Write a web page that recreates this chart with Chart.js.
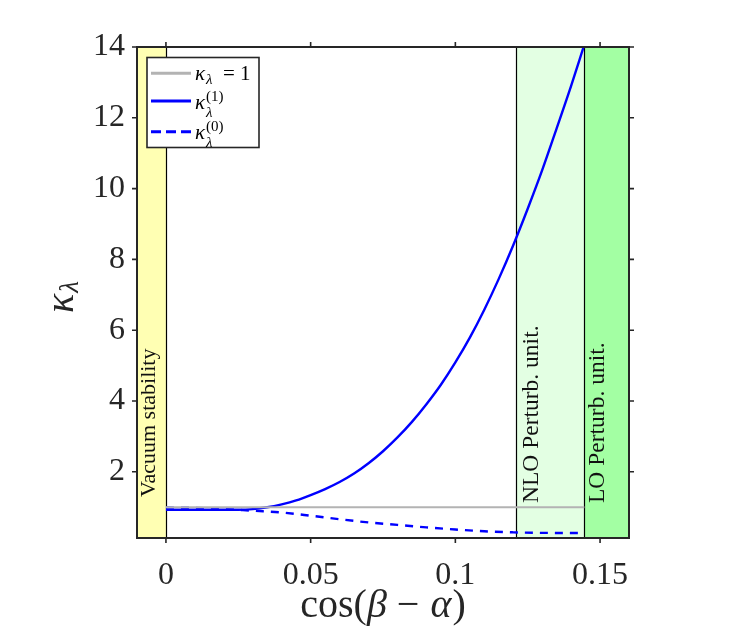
<!DOCTYPE html>
<html><head><meta charset="utf-8">
<script src="https://cdn.jsdelivr.net/npm/chart.js@4.4.1/dist/chart.umd.min.js"></script>
<style>html,body{margin:0;padding:0;background:#fff;}#wrap{width:740px;height:640px;}</style>
</head><body><div id="wrap"><canvas id="c" width="740" height="640"></canvas></div>
<script>
// ---- data ----
const cosBA1 = [0, 0.01, 0.02, 0.025, 0.03, 0.035, 0.04, 0.045, 0.05, 0.055, 0.06, 0.065, 0.07, 0.075, 0.08, 0.085, 0.09, 0.095, 0.10, 0.105, 0.11, 0.115, 0.12, 0.125, 0.13, 0.135, 0.14, 0.1443];
const kappa1 = [0.93, 0.93, 0.93, 0.93, 0.947, 0.997, 1.08, 1.19, 1.34, 1.51, 1.71, 1.95, 2.24, 2.58, 2.97, 3.41, 3.91, 4.46, 5.09, 5.79, 6.58, 7.45, 8.40, 9.43, 10.52, 11.70, 12.90, 14.0];
const cosBA0 = [0, 0.01, 0.02, 0.03, 0.04, 0.05, 0.06, 0.07, 0.08, 0.09, 0.10, 0.11, 0.12, 0.13, 0.1446];
const kappa0 = [0.99, 0.98, 0.95, 0.90, 0.85, 0.76, 0.66, 0.57, 0.50, 0.43, 0.37, 0.32, 0.29, 0.275, 0.27];
const refX   = [0, 0.1446];
const refY   = [1, 1];
const xTicks = [0, 0.05, 0.1, 0.15];
const xTickLabels = ['0', '0.05', '0.1', '0.15'];
const yTicks = [2, 4, 6, 8, 10, 12, 14];
const yTickLabels = ['2', '4', '6', '8', '10', '12', '14'];
const bandFrom = [-0.01, 0.1211, 0.1446];
const bandTo   = [0, 0.1446, 0.16];
const bandColors = ['#ffffb3', '#e3ffe3', '#a3ffa3'];
const bandLabels = ['Vacuum stability', 'NLO Perturb. unit.', 'LO Perturb. unit.'];
const bandEdgeValues = [0, 0.1211, 0.1446];

const SERIF = '"Liberation Serif", "DejaVu Serif", serif';
const INK = '#262626';

const bandsPlugin = {
  id: 'bands',
  beforeDatasetsDraw(chart) {
    const {ctx, chartArea: a, scales: {x}} = chart;
    ctx.save();
    bandFrom.forEach((f, i) => {
      const x0 = x.getPixelForValue(f), x1 = x.getPixelForValue(bandTo[i]);
      ctx.fillStyle = bandColors[i];
      ctx.fillRect(x0, a.top, x1 - x0, a.bottom - a.top);
    });
    ctx.strokeStyle = '#000';
    ctx.lineWidth = 1.2;
    bandEdgeValues.forEach(v => {
      const px = Math.round(x.getPixelForValue(v)) + 0.5;
      ctx.beginPath(); ctx.moveTo(px, a.top); ctx.lineTo(px, a.bottom); ctx.stroke();
    });
    ctx.fillStyle = '#111';
    ctx.textAlign = 'left';
    ctx.textBaseline = 'alphabetic';
    const pos = [[155, 497], [538, 503], [604, 503]];
    const sizes = [22, 23.5, 23.5];
    bandLabels.forEach((t, i) => {
      ctx.save();
      ctx.font = sizes[i] + 'px ' + SERIF;
      ctx.translate(pos[i][0], pos[i][1]);
      ctx.rotate(-Math.PI / 2);
      ctx.fillText(t, 0, 0);
      ctx.restore();
    });
    ctx.restore();
  }
};

const framePlugin = {
  id: 'frame',
  afterDraw(chart) {
    const {ctx, chartArea: a, scales: {x, y}} = chart;
    ctx.save();
    ctx.strokeStyle = INK;
    ctx.lineWidth = 2;
    ctx.strokeRect(a.left, a.top, a.right - a.left, a.bottom - a.top);
    ctx.lineWidth = 1.6;
    const L = 5;
    xTicks.forEach(v => {
      const px = x.getPixelForValue(v);
      ctx.beginPath();
      ctx.moveTo(px, a.bottom); ctx.lineTo(px, a.bottom + L);
      ctx.moveTo(px, a.top); ctx.lineTo(px, a.top - L);
      ctx.stroke();
    });
    yTicks.forEach(v => {
      const py = y.getPixelForValue(v);
      ctx.beginPath();
      ctx.moveTo(a.left, py); ctx.lineTo(a.left - L, py);
      ctx.moveTo(a.right, py); ctx.lineTo(a.right + L, py);
      ctx.stroke();
    });
    // axis titles
    ctx.fillStyle = INK;
    ctx.textAlign = 'left';
    ctx.textBaseline = 'alphabetic';
    const up = '40px ' + SERIF, it = 'italic 40px ' + SERIF;
    const xt = [['cos', up], ['(', up], ['β', it], [' − ', up], ['α', it, 1], [')', up, 1]];
    let w = 0;
    xt.forEach(p => { ctx.font = p[1]; w += ctx.measureText(p[0]).width + (p[2] || 0); });
    let cx = 383 - w / 2;
    xt.forEach(p => { ctx.font = p[1]; ctx.fillText(p[0], cx + (p[2] || 0), 617); cx += ctx.measureText(p[0]).width + (p[2] || 0); });
    ctx.save();
    ctx.translate(73, 313);
    ctx.rotate(-Math.PI / 2);
    ctx.font = it;
    ctx.fillText('κ', 0, 0);
    const kw = ctx.measureText('κ').width;
    ctx.font = 'italic 27px ' + SERIF;
    ctx.fillText('λ', kw + 1, 5);
    ctx.restore();
    // legend
    const lx = 147, ly = 57.5, lw = 112, lh = 90;
    ctx.fillStyle = '#fff';
    ctx.fillRect(lx, ly, lw, lh);
    ctx.strokeStyle = INK;
    ctx.lineWidth = 1.6;
    ctx.strokeRect(lx, ly, lw, lh);
    const rows = [73.3, 101, 131.7];
    const ds = chart.data.datasets;
    rows.forEach((ry, i) => {
      const d = ds[i];
      ctx.save();
      ctx.strokeStyle = d.borderColor;
      ctx.lineWidth = 3;
      ctx.setLineDash(d.borderDash ? [10, 5] : []);
      ctx.beginPath(); ctx.moveTo(151, ry); ctx.lineTo(191, ry); ctx.stroke();
      ctx.restore();
    });
    ctx.fillStyle = '#000';
    const mi = 'italic 21px ' + SERIF, mu = '21px ' + SERIF, si = 'italic 15px ' + SERIF, su = '15px ' + SERIF;
    ctx.font = mi; ctx.fillText('κ', 195, 79.5);
    const kW = ctx.measureText('κ').width;
    ctx.font = si; ctx.fillText('λ', 195 + kW + 1, 83.5);
    ctx.font = mu; ctx.fillText('= 1', 223, 79.5);
    [['(1)', 108.5], ['(0)', 139]].forEach(r => {
      ctx.font = mi; ctx.fillText('κ', 195, r[1]);
      ctx.font = su; ctx.fillText(r[0], 195 + kW + 1, r[1] - 8);
      ctx.font = si; ctx.fillText('λ', 195 + kW + 1, r[1] + 8);
    });
    ctx.restore();
  }
};

const tickFont = {family: SERIF, size: 32};
new Chart(document.getElementById('c').getContext('2d'), {
  type: 'line',
  data: {
    datasets: [
      {label: 'κλ = 1', data: refX.map((v, i) => ({x: v, y: refY[i]})), borderColor: '#b3b3b3', borderWidth: 2, pointRadius: 0, fill: false},
      {label: 'κλ(1)', data: cosBA1.map((v, i) => ({x: v, y: kappa1[i]})), borderColor: '#0000ff', borderWidth: 2.4, pointRadius: 0, fill: false, cubicInterpolationMode: 'monotone'},
      {label: 'κλ(0)', data: cosBA0.map((v, i) => ({x: v, y: kappa0[i]})), borderColor: '#0000ff', borderWidth: 2.4, borderDash: [8, 7], pointRadius: 0, fill: false, cubicInterpolationMode: 'monotone'}
    ]
  },
  options: {
    responsive: false,
    animation: false,
    devicePixelRatio: 1,
    layout: {padding: {top: 47, right: 111, left: 0, bottom: 0}},
    plugins: {legend: {display: false}, tooltip: {enabled: false}},
    scales: {
      x: {
        type: 'linear', min: -0.01, max: 0.16,
        afterBuildTicks: s => { s.ticks = xTicks.map(v => ({value: v})); },
        afterFit: s => { s.height = 102; },
        grid: {display: false, drawTicks: false},
        border: {display: false},
        ticks: {padding: 18, font: tickFont, color: INK, maxRotation: 0, autoSkip: false,
          callback: (v) => xTickLabels[xTicks.indexOf(v)]}
      },
      y: {
        type: 'linear', min: 0.13, max: 14,
        afterBuildTicks: s => { s.ticks = yTicks.map(v => ({value: v})); },
        afterFit: s => { s.width = 137; },
        grid: {display: false, drawTicks: false},
        border: {display: false},
        ticks: {padding: 12, font: tickFont, color: INK, autoSkip: false,
          callback: (v) => yTickLabels[yTicks.indexOf(v)]}
      }
    }
  },
  plugins: [bandsPlugin, framePlugin]
});
</script></body></html>
